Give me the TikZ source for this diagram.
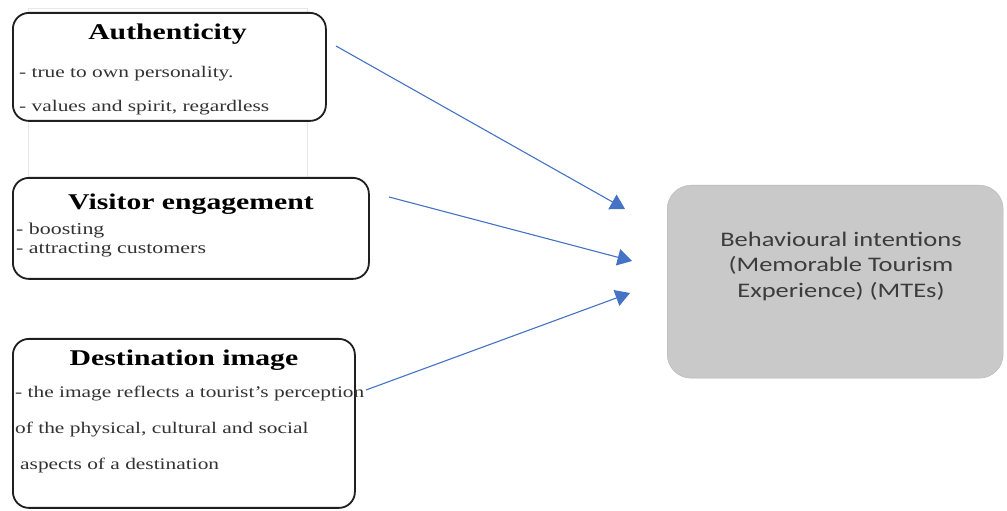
\documentclass[tikz,border=0pt]{standalone}
\usepackage{fontspec}
\usetikzlibrary{arrows.meta}
\newfontfamily\wideserif[FakeStretch=1.32]{Liberation Serif}
\newfontfamily\widesans[FakeStretch=1.28]{Carlito}
\definecolor{arrowblue}{HTML}{4472C4}
\definecolor{boxgray}{HTML}{C9C9C9}
\definecolor{inkgray}{HTML}{3C3C3C}
\definecolor{bodygray}{HTML}{333333}

\begin{document}
\begin{tikzpicture}[x=1pt,y=1pt,
  factor/.style={draw=black!88, line width=1.8pt, rounded corners=16pt,
    anchor=north west, inner sep=0pt, fill=white},
  heading/.style={anchor=base, inner sep=0pt, text=black,
    font=\wideserif\bfseries\fontsize{22.5}{26}\selectfont},
  bullet/.style={anchor=base west, inner sep=0pt, text=bodygray,
    font=\wideserif\fontsize{16.2}{19}\selectfont},
  outcome/.style={fill=boxgray, draw=boxgray!90!black, line width=0.4pt,
    rounded corners=24pt, anchor=north west, inner sep=0pt},
  outcometext/.style={anchor=base, inner sep=0pt, text=inkgray,
    font=\widesans\fontsize{20.7}{26}\selectfont},
  link/.style={draw=arrowblue, line width=1.1pt,
    -{Triangle[scale=2.5]}}]
\useasboundingbox (0,0) rectangle (1007,511);

% faint frame left behind the first factor
\draw[gray!18, line width=0.6pt] (28,503) rectangle (307,329);

% factor boxes
\node[factor, minimum width=313pt, minimum height=108pt] (auth) at (12,499) {};
\node[factor, minimum width=356pt, minimum height=101pt] (visit) at (12,334) {};
\node[factor, minimum width=342pt, minimum height=169pt] (dest) at (12,173) {};

% outcome box
\node[outcome, minimum width=336pt, minimum height=193pt] (mte) at (667,326) {};

% Authenticity
\node[heading] (authT) at (167.5,471) {Authenticity};
\node[bullet] (authA) at (19,433) {- true to own personality.};
\node[bullet] (authB) at (19,399) {- values and spirit, regardless};

% Visitor engagement
\node[heading] (visitT) at (191,301) {Visitor engagement};
\node[bullet, font=\wideserif\fontsize{16.6}{19}\selectfont] (visitA) at (16,276) {- boosting};
\node[bullet, font=\wideserif\fontsize{16.6}{19}\selectfont] (visitB) at (16,257) {- attracting customers};

% Destination image
\node[heading] (destT) at (184,145) {Destination image};
\node[bullet] (destA) at (15,113) {- the image reflects a tourist’s perception};
\node[bullet] (destB) at (15,77) {of the physical, cultural and social};
\node[bullet] (destC) at (20,41) {aspects of a destination};

% outcome text
\node[outcometext] (mteA) at (841,264) {Behavioural intentions};
\node[outcometext] (mteB) at (841,239) {(Memorable Tourism};
\node[outcometext] (mteC) at (841,213) {Experience) (MTEs)};

% connectors
\coordinate (authOut) at (336,465);
\coordinate (visitOut) at (389,314);
\coordinate (destOut) at (366,121);
\coordinate (mteInA) at (625,302);
\coordinate (mteInB) at (632,250);
\coordinate (mteInC) at (630,218);
\draw[link] (authOut) -- (mteInA);
\draw[link] (visitOut) -- (mteInB);
\draw[link] (destOut) -- (mteInC);
\end{tikzpicture}
\end{document}
